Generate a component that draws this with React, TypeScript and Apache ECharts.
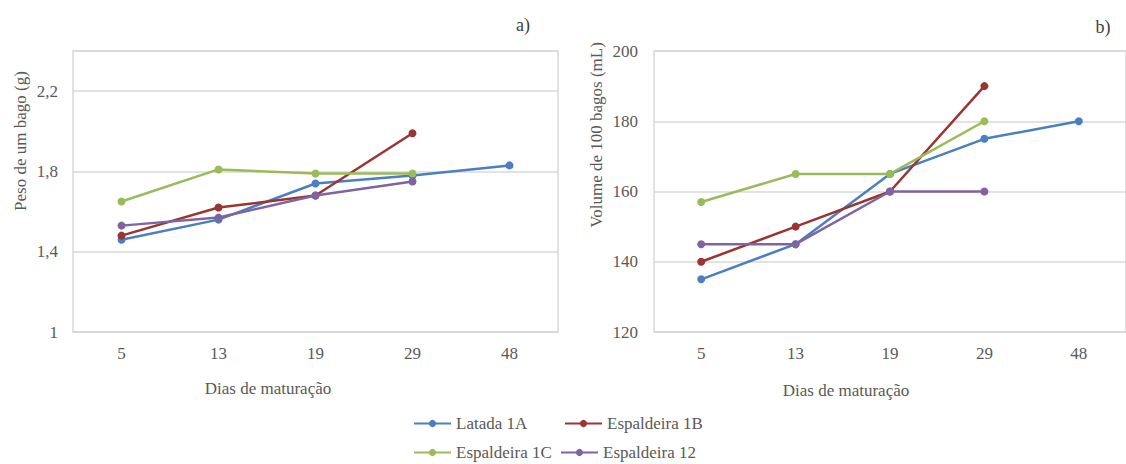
import React, { useEffect, useRef } from "react";
import * as echarts from "echarts";

const categories = ["5", "13", "19", "29", "48"];
const seriesNames = ["Latada 1A", "Espaldeira 1B", "Espaldeira 1C", "Espaldeira 12"];
const colors = ["#4a7fc1", "#9a3532", "#9bbb59", "#8064a2"];

// a) Peso de um bago (g)
const pesoLatada1A = [1.46, 1.56, 1.74, 1.78, 1.83];
const pesoEsp1B = [1.48, 1.62, 1.68, 1.99, null];
const pesoEsp1C = [1.65, 1.81, 1.79, 1.79, null];
const pesoEsp12 = [1.53, 1.57, 1.68, 1.75, null];

// b) Volume de 100 bagos (mL)
const volLatada1A = [135, 145, 165, 175, 180];
const volEsp1B = [140, 150, 160, 190, null];
const volEsp1C = [157, 165, 165, 180, null];
const volEsp12 = [145, 145, 160, 160, null];

const pesoTicks = { min: 1, max: 2.4, interval: 0.4 };
const volTicks = { min: 120, max: 200, interval: 20 };

const FONT = "'Liberation Serif', 'Times New Roman', 'DejaVu Serif', serif";
const TXT = "#595959";
const GRID = "#d9d9d9";

export default function App() {
  const ref = useRef<HTMLDivElement>(null);
  useEffect(() => {
    document.body.style.margin = "0";
    const chart = echarts.init(ref.current!, undefined, { renderer: "svg" });
    const pesoData = [pesoLatada1A, pesoEsp1B, pesoEsp1C, pesoEsp12];
    const volData = [volLatada1A, volEsp1B, volEsp1C, volEsp12];
    const mkSeries = (data: (number | null)[][], idx: number) =>
      data.map((d, i) => ({
        name: seriesNames[i],
        type: "line",
        xAxisIndex: idx,
        yAxisIndex: idx,
        data: d,
        symbol: "circle",
        symbolSize: 8,
        connectNulls: false,
        lineStyle: { width: 2.5, color: colors[i] },
        itemStyle: { color: colors[i] },
        z: 10 + i,
      }));
    const xAxisBase = (gi: number) => ({
      type: "category",
      gridIndex: gi,
      data: categories,
      boundaryGap: true,
      axisLine: { show: true, lineStyle: { color: GRID, width: 1.5 } },
      axisTick: { show: false },
      axisLabel: { color: TXT, fontFamily: FONT, fontSize: 17, margin: 13 },
    });
    const legendItem = (name: string, left: number, top: number) => ({
      data: [name],
      left,
      top,
      itemWidth: 37,
      itemHeight: 9,
      itemGap: 0,
      padding: 0,
      textStyle: { color: TXT, fontFamily: FONT, fontSize: 17 },
      selectedMode: false,
    });
    const gtext = (text: string, x: number, y: number, size: number, fill: string, rotation = 0) => ({
      type: "text",
      x,
      y,
      rotation,
      style: { text, fill, fontFamily: FONT, fontSize: size, textAlign: "center", textVerticalAlign: "middle" },
    });
    chart.setOption({
      animation: false,
      backgroundColor: "#ffffff",
      grid: [
        { left: 73, top: 51, width: 485, height: 281, show: true, borderColor: GRID, borderWidth: 1.5 },
        { left: 654, top: 51, width: 480, height: 281, show: true, borderColor: GRID, borderWidth: 1.5 },
      ],
      xAxis: [xAxisBase(0), xAxisBase(1)],
      yAxis: [
        {
          type: "value",
          gridIndex: 0,
          ...pesoTicks,
          axisLine: { show: false },
          axisTick: { show: false },
          splitLine: { lineStyle: { color: GRID, width: 1.5 } },
          axisLabel: {
            color: TXT,
            fontFamily: FONT,
            fontSize: 17,
            margin: 15,
            showMaxLabel: false,
            formatter: (v: number) => String(Math.round(v * 10) / 10).replace(".", ","),
          },
        },
        {
          type: "value",
          gridIndex: 1,
          ...volTicks,
          axisLine: { show: false },
          axisTick: { show: false },
          splitLine: { lineStyle: { color: GRID, width: 1.5 } },
          axisLabel: { color: TXT, fontFamily: FONT, fontSize: 17, margin: 16 },
        },
      ],
      legend: [
        legendItem(seriesNames[0], 413, 415),
        legendItem(seriesNames[1], 564, 415),
        legendItem(seriesNames[2], 413, 444),
        legendItem(seriesNames[3], 560, 444),
      ],
      graphic: [
        gtext("a)", 523, 25, 18, "#404040"),
        gtext("b)", 1103, 27, 18, "#404040"),
        gtext("Peso de um bago (g)", 20, 141, 17, TXT, Math.PI / 2),
        gtext("Volume de 100 bagos (mL)", 596, 135, 17, TXT, Math.PI / 2),
        gtext("Dias de maturação", 268, 388, 17, TXT),
        gtext("Dias de maturação", 846, 390, 17, TXT),
      ],
      series: [...mkSeries(pesoData, 0), ...mkSeries(volData, 1)],
    });
    return () => chart.dispose();
  }, []);
  return <div ref={ref} style={{ width: 1126, height: 464 }} />;
}
